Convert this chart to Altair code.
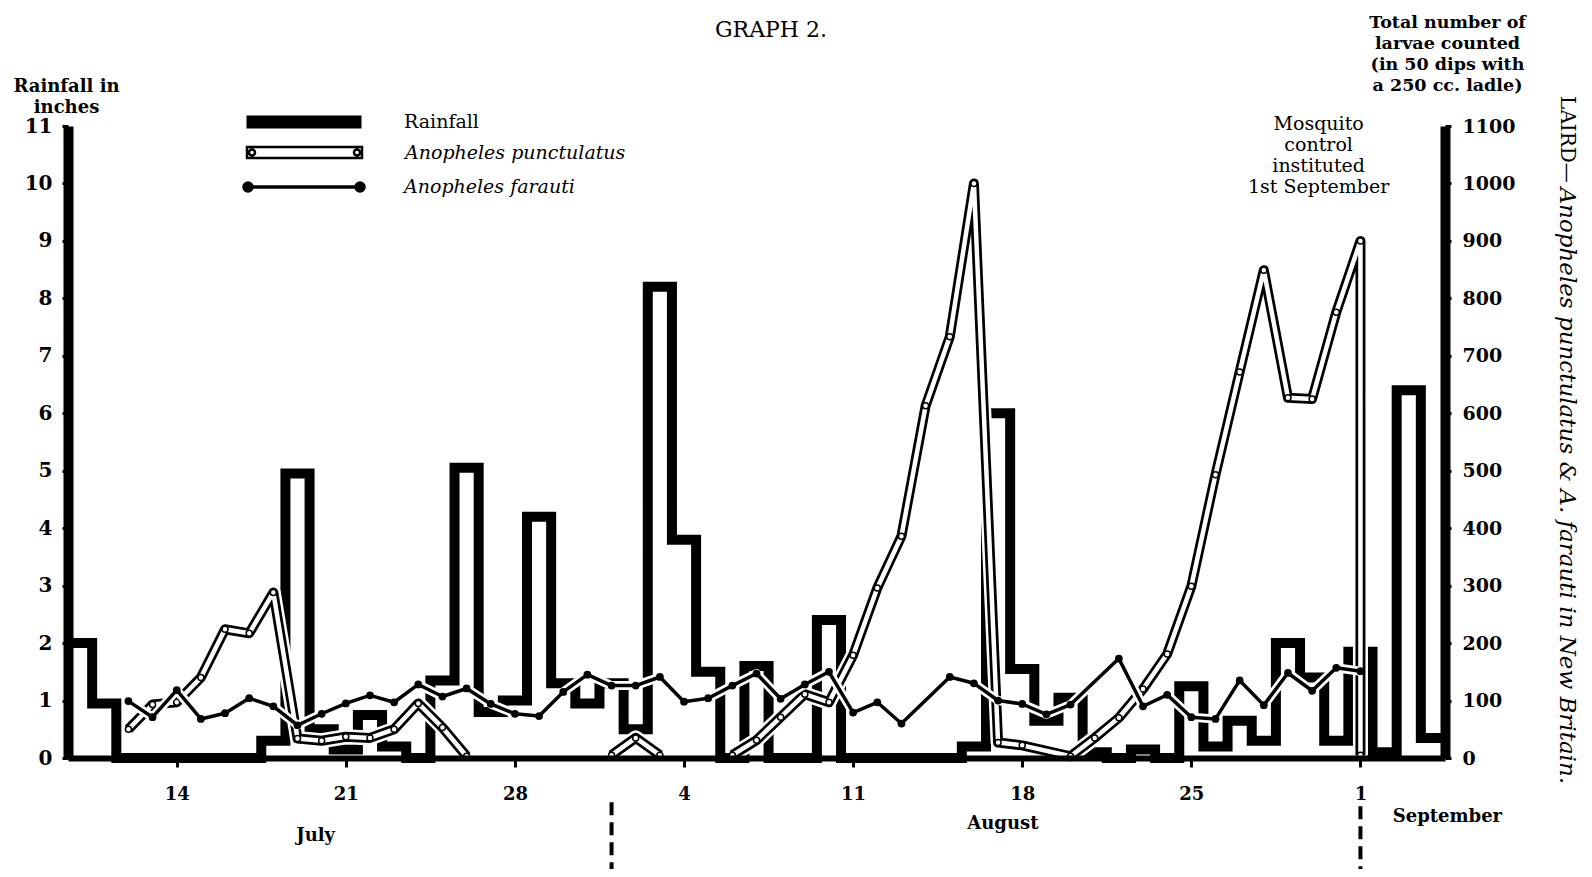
import altair as alt
import pandas as pd

# Day numbers: 1 = 1 July, 32 = 1 August, 63 = 1 September
rain_days = list(range(10, 67))
rain_inches = [2.0, 0.95, 0, 0, 0, 0, 0, 0, 0.3, 4.95,
               0.5, 0.15, 0.75, 0.2, 0, 1.35, 5.05, 0.8, 1.0, 4.2,
               1.3, 0.95, 1.3, 0.5, 8.2, 3.8, 1.5, 0, 1.6, 0,
               0, 2.4, 0, 0, 0, 0, 0, 0.2, 6.0, 1.55,
               0.65, 1.05, 0.1, 0, 0.15, 0, 1.25, 0.2, 0.65, 0.3,
               2.0, 1.4, 0.3, 1.85, 0.1, 6.4, 0.35]

punct_days = [12, 13, 14, 15, 16, 17, 18, 19, 20, 21, 22, 23, 24, 25, 26,
              32, 33, 34,
              37, 38, 39, 40, 41, 42, 43, 44, 45, 46, 47, 48, 49, 51, 52, 53,
              54, 55, 56, 57, 58, 59, 60, 61, 62, 63, 63]
punct_counts = [50, 93, 97, 140, 224, 217, 288, 34, 30, 37, 35, 50, 95, 53, 3,
                5, 35, 5,
                5, 31, 71, 111, 97, 179, 296, 386, 613, 733, 1000, 27, 22, 3, 35, 70,
                120, 181, 299, 493, 672, 849, 627, 625, 776, 900, 5]

farauti_days = list(range(12, 45)) + list(range(46, 52)) + list(range(53, 64))
farauti_counts = [99, 71, 118, 68, 78, 104, 90, 57, 77, 95, 109, 97, 128, 107, 121, 94, 77,
                  73, 115, 145, 126, 126, 141, 98, 104, 126, 147, 103, 128, 150, 79, 97, 60,
                  141, 130, 100, 94, 76, 93,
                  173, 90, 110, 71, 68, 135, 92, 148, 117, 157, 151]

tick_days = [14, 21, 28, 35, 42, 49, 56, 63]
month_names = ["July", "August", "September"]
month_days = [19.75, 48.2, 66.6]
month_pos = [-136, -115, -103]
divider_days = [32, 63]
divider_top = [-77, -84]

SERIF = "DejaVu Serif"
W, H = 1377, 632

# ---- tables built from the arrays ----
rain_rows = []
for i, (d, v) in enumerate(zip(rain_days, rain_inches)):
    rain_rows.append({"t": d - 0.5, "v": v, "o": 2 * i})
    rain_rows.append({"t": d + 0.5, "v": v, "o": 2 * i + 1})
rain_df = pd.DataFrame(rain_rows)


def series_df(days, vals):
    seg, rows = 0, []
    for i, (d, v) in enumerate(zip(days, vals)):
        if i and d - days[i - 1] > 2:
            seg += 1
        rows.append({"t": d, "n": v, "o": i, "seg": seg})
    return pd.DataFrame(rows)


punct_df = series_df(punct_days, punct_counts)
far_df = series_df(farauti_days, farauti_counts)

x_scale = alt.Scale(domain=[9.5, 66.5], nice=False, zero=False)
rain_scale = alt.Scale(domain=[0, 11], nice=False)
larv_scale = alt.Scale(domain=[0, 1100], nice=False)

x_axis = alt.Axis(values=tick_days,
                  labelExpr="datum.value > 62 ? '' + (datum.value - 62) : datum.value > 31 ? '' + (datum.value - 31) : '' + datum.value",
                  title=None, grid=False, domainColor="black", domainWidth=6,
                  tickColor="black", tickWidth=3, tickSize=9,
                  labelFont=SERIF, labelFontSize=18, labelFontWeight="bold",
                  labelColor="black", labelPadding=18, zindex=1)

left_axis = alt.Axis(orient="left", values=list(range(12)), format="d",
                     title=["Rainfall in", "inches"], titleAngle=0, titleAlign="center",
                     titleBaseline="alphabetic", titleX=-2, titleY=-35, titleLineHeight=21,
                     titleFont=SERIF, titleFontSize=18, titleFontWeight="bold", titleColor="black",
                     domainColor="black", domainWidth=10, tickColor="black", tickWidth=3,
                     tickSize=6, labelFont=SERIF, labelFontSize=20, labelFontWeight="bold",
                     labelColor="black", labelPadding=10, grid=False, zindex=1)

right_axis = alt.Axis(orient="right", values=list(range(0, 1101, 100)), format="d",
                      title=["Total number of", "larvae counted", "(in 50 dips with", "a 250 cc. ladle)"],
                      titleAngle=0, titleAlign="center", titleBaseline="alphabetic",
                      titleX=2, titleY=-99, titleLineHeight=21,
                      titleFont=SERIF, titleFontSize=17.5, titleFontWeight="bold", titleColor="black",
                      domainColor="black", domainWidth=10, tickColor="black", tickWidth=3,
                      tickSize=6, labelFont=SERIF, labelFontSize=19, labelFontWeight="bold",
                      labelColor="black", labelPadding=11, grid=False, zindex=1)


def lx():
    return alt.X("t:Q", scale=x_scale, axis=x_axis)


def ly():
    return alt.Y("n:Q", scale=larv_scale, axis=right_axis)


# ---- rainfall (thick step outline) ----
rain_layer = alt.Chart(rain_df).mark_line(
    color="black", strokeWidth=10, strokeJoin="miter", strokeCap="butt"
).encode(
    x=lx(),
    y=alt.Y("v:Q", scale=rain_scale, axis=left_axis),
    order="o:Q",
)

base_p = alt.Chart(punct_df)
p_halo = base_p.mark_line(color="white", strokeWidth=15, strokeJoin="round").encode(
    x=lx(), y=ly(), order="o:Q", detail="seg:N")
p_outer = base_p.mark_line(color="black", strokeWidth=10, strokeJoin="round").encode(
    x=lx(), y=ly(), order="o:Q", detail="seg:N")
p_inner = base_p.mark_line(color="white", strokeWidth=4.5, strokeJoin="round").encode(
    x=lx(), y=ly(), order="o:Q", detail="seg:N")
p_pts = base_p.mark_point(shape="circle", filled=True, fill="white", stroke="black",
                          strokeWidth=1.5, size=36, opacity=1).encode(x=lx(), y=ly())

base_f = alt.Chart(far_df)
f_halo = base_f.mark_line(color="white", strokeWidth=9, strokeJoin="round").encode(
    x=lx(), y=ly(), order="o:Q", detail="seg:N")
f_line = base_f.mark_line(color="black", strokeWidth=3.5, strokeJoin="round").encode(
    x=lx(), y=ly(), order="o:Q", detail="seg:N")
f_pts = base_f.mark_circle(color="black", size=60, opacity=1).encode(x=lx(), y=ly())

# ---- annotations ----
month_df = pd.DataFrame({"t": month_days, "n": month_pos, "label": month_names})
months = alt.Chart(month_df).mark_text(font=SERIF, fontSize=18, fontWeight="bold",
                                       color="black", baseline="middle", align="center").encode(
    x=lx(), y=ly(), text="label:N")

div_df = pd.DataFrame({"t": divider_days, "n": divider_top, "n2": [-195] * 2})
dividers = alt.Chart(div_df).mark_rule(color="black", strokeWidth=4, strokeDash=[13, 7]).encode(
    x=lx(), y=ly(), y2="n2:Q")

mc_df = pd.DataFrame({"t": [61.27], "n": [1120], "label": ["Mosquito\ncontrol\ninstituted\n1st September"]})
mosq = alt.Chart(mc_df).mark_text(font=SERIF, fontSize=19, lineHeight=21, lineBreak="\n",
                                  baseline="top", align="center", color="black").encode(
    x=lx(), y=ly(), text="label:N")

title_df = pd.DataFrame({"t": [38.6], "n": [1267], "label": ["GRAPH 2."]})
gtitle = alt.Chart(title_df).mark_text(font=SERIF, fontSize=22, baseline="middle",
                                       align="center", color="black").encode(
    x=lx(), y=ly(), text="label:N")

side1_df = pd.DataFrame({"t": [71.55], "n": [1152], "label": ["LAIRD\u2014"]})
side1 = alt.Chart(side1_df).mark_text(font=SERIF, fontSize=20, angle=90, baseline="middle",
                                      align="left", color="black").encode(
    x=lx(), y=ly(), text="label:N")
side2_df = pd.DataFrame({"t": [71.55], "n": [993],
                         "label": ["Anopheles punctulatus & A. farauti in New Britain."]})
side2 = alt.Chart(side2_df).mark_text(font=SERIF, fontSize=23, fontStyle="italic", angle=90,
                                      baseline="middle", align="left", color="black").encode(
    x=lx(), y=ly(), text="label:N")

# ---- legend (three single-entry legends with custom symbols) ----
RAIN_PATH = "M-5.75,-0.65H5.75V0.65H-5.75Z"
PUNCT_PATH = ("M-5.75,-0.55H5.75V0.55H-5.75Z "
              "M-5.55,0a0.3,0.3 0 1,0 0.6,0a0.3,0.3 0 1,0 -0.6,0 "
              "M4.95,0a0.3,0.3 0 1,0 0.6,0a0.3,0.3 0 1,0 -0.6,0")
FAR_PATH = ("M-5.6,0H5.6 "
            "M-6.0,0a0.4,0.4 0 1,0 0.8,0a0.4,0.4 0 1,0 -0.8,0 "
            "M5.2,0a0.4,0.4 0 1,0 0.8,0a0.4,0.4 0 1,0 -0.8,0")


def leg(x, y, style, offset, sw, stype=None):
    kw = dict(title=None, orient="none", legendX=x, legendY=y, symbolSize=400,
              labelFont=SERIF, labelFontSize=19, labelFontStyle=style, labelColor="black",
              labelOffset=offset, labelLimit=600, padding=0, symbolStrokeWidth=sw,
              symbolOpacity=1)
    if stype:
        kw["symbolType"] = stype
    return alt.Legend(**kw)


leg_df = pd.DataFrame({"k": ["Rainfall"]})
leg_rain = alt.Chart(leg_df).mark_point(filled=True, size=400).encode(
    fill=alt.Fill("k:N", scale=alt.Scale(domain=["Rainfall"], range=["black"]),
                  legend=leg(226, -14, "normal", 90, 0, RAIN_PATH))
).transform_filter("false")

leg_df2 = pd.DataFrame({"k": ["Anopheles punctulatus"]})
leg_punct = alt.Chart(leg_df2).mark_point(filled=True, fill="white", stroke="black",
                                          strokeWidth=2.5, size=400).encode(
    shape=alt.Shape("k:N", scale=alt.Scale(domain=["Anopheles punctulatus"], range=[PUNCT_PATH]),
                    legend=leg(225, 15, "italic", 89, 2.5))
).transform_filter("false")

leg_df3 = pd.DataFrame({"k": ["Anopheles farauti"]})
leg_far = alt.Chart(leg_df3).mark_point(filled=True, fill="black", size=400).encode(
    stroke=alt.Stroke("k:N", scale=alt.Scale(domain=["Anopheles farauti"], range=["black"]),
                      legend=leg(224, 49, "italic", 88, 3.5, FAR_PATH))
).transform_filter("false")

larvae = alt.layer(p_halo, p_outer, p_inner, p_pts, f_halo, f_line, f_pts,
                   months, dividers, mosq, gtitle, side1, side2,
                   leg_rain, leg_punct, leg_far)

chart = alt.layer(rain_layer, larvae).resolve_scale(y="independent").properties(
    width=W, height=H,
    autosize=alt.AutoSizeParams(type="none"),
    padding={"left": 60, "top": 118, "right": 138, "bottom": 111},
    background="white",
).configure_view(stroke=None)

chart.save("out.html", embed_options={"renderer": "svg", "actions": False})
